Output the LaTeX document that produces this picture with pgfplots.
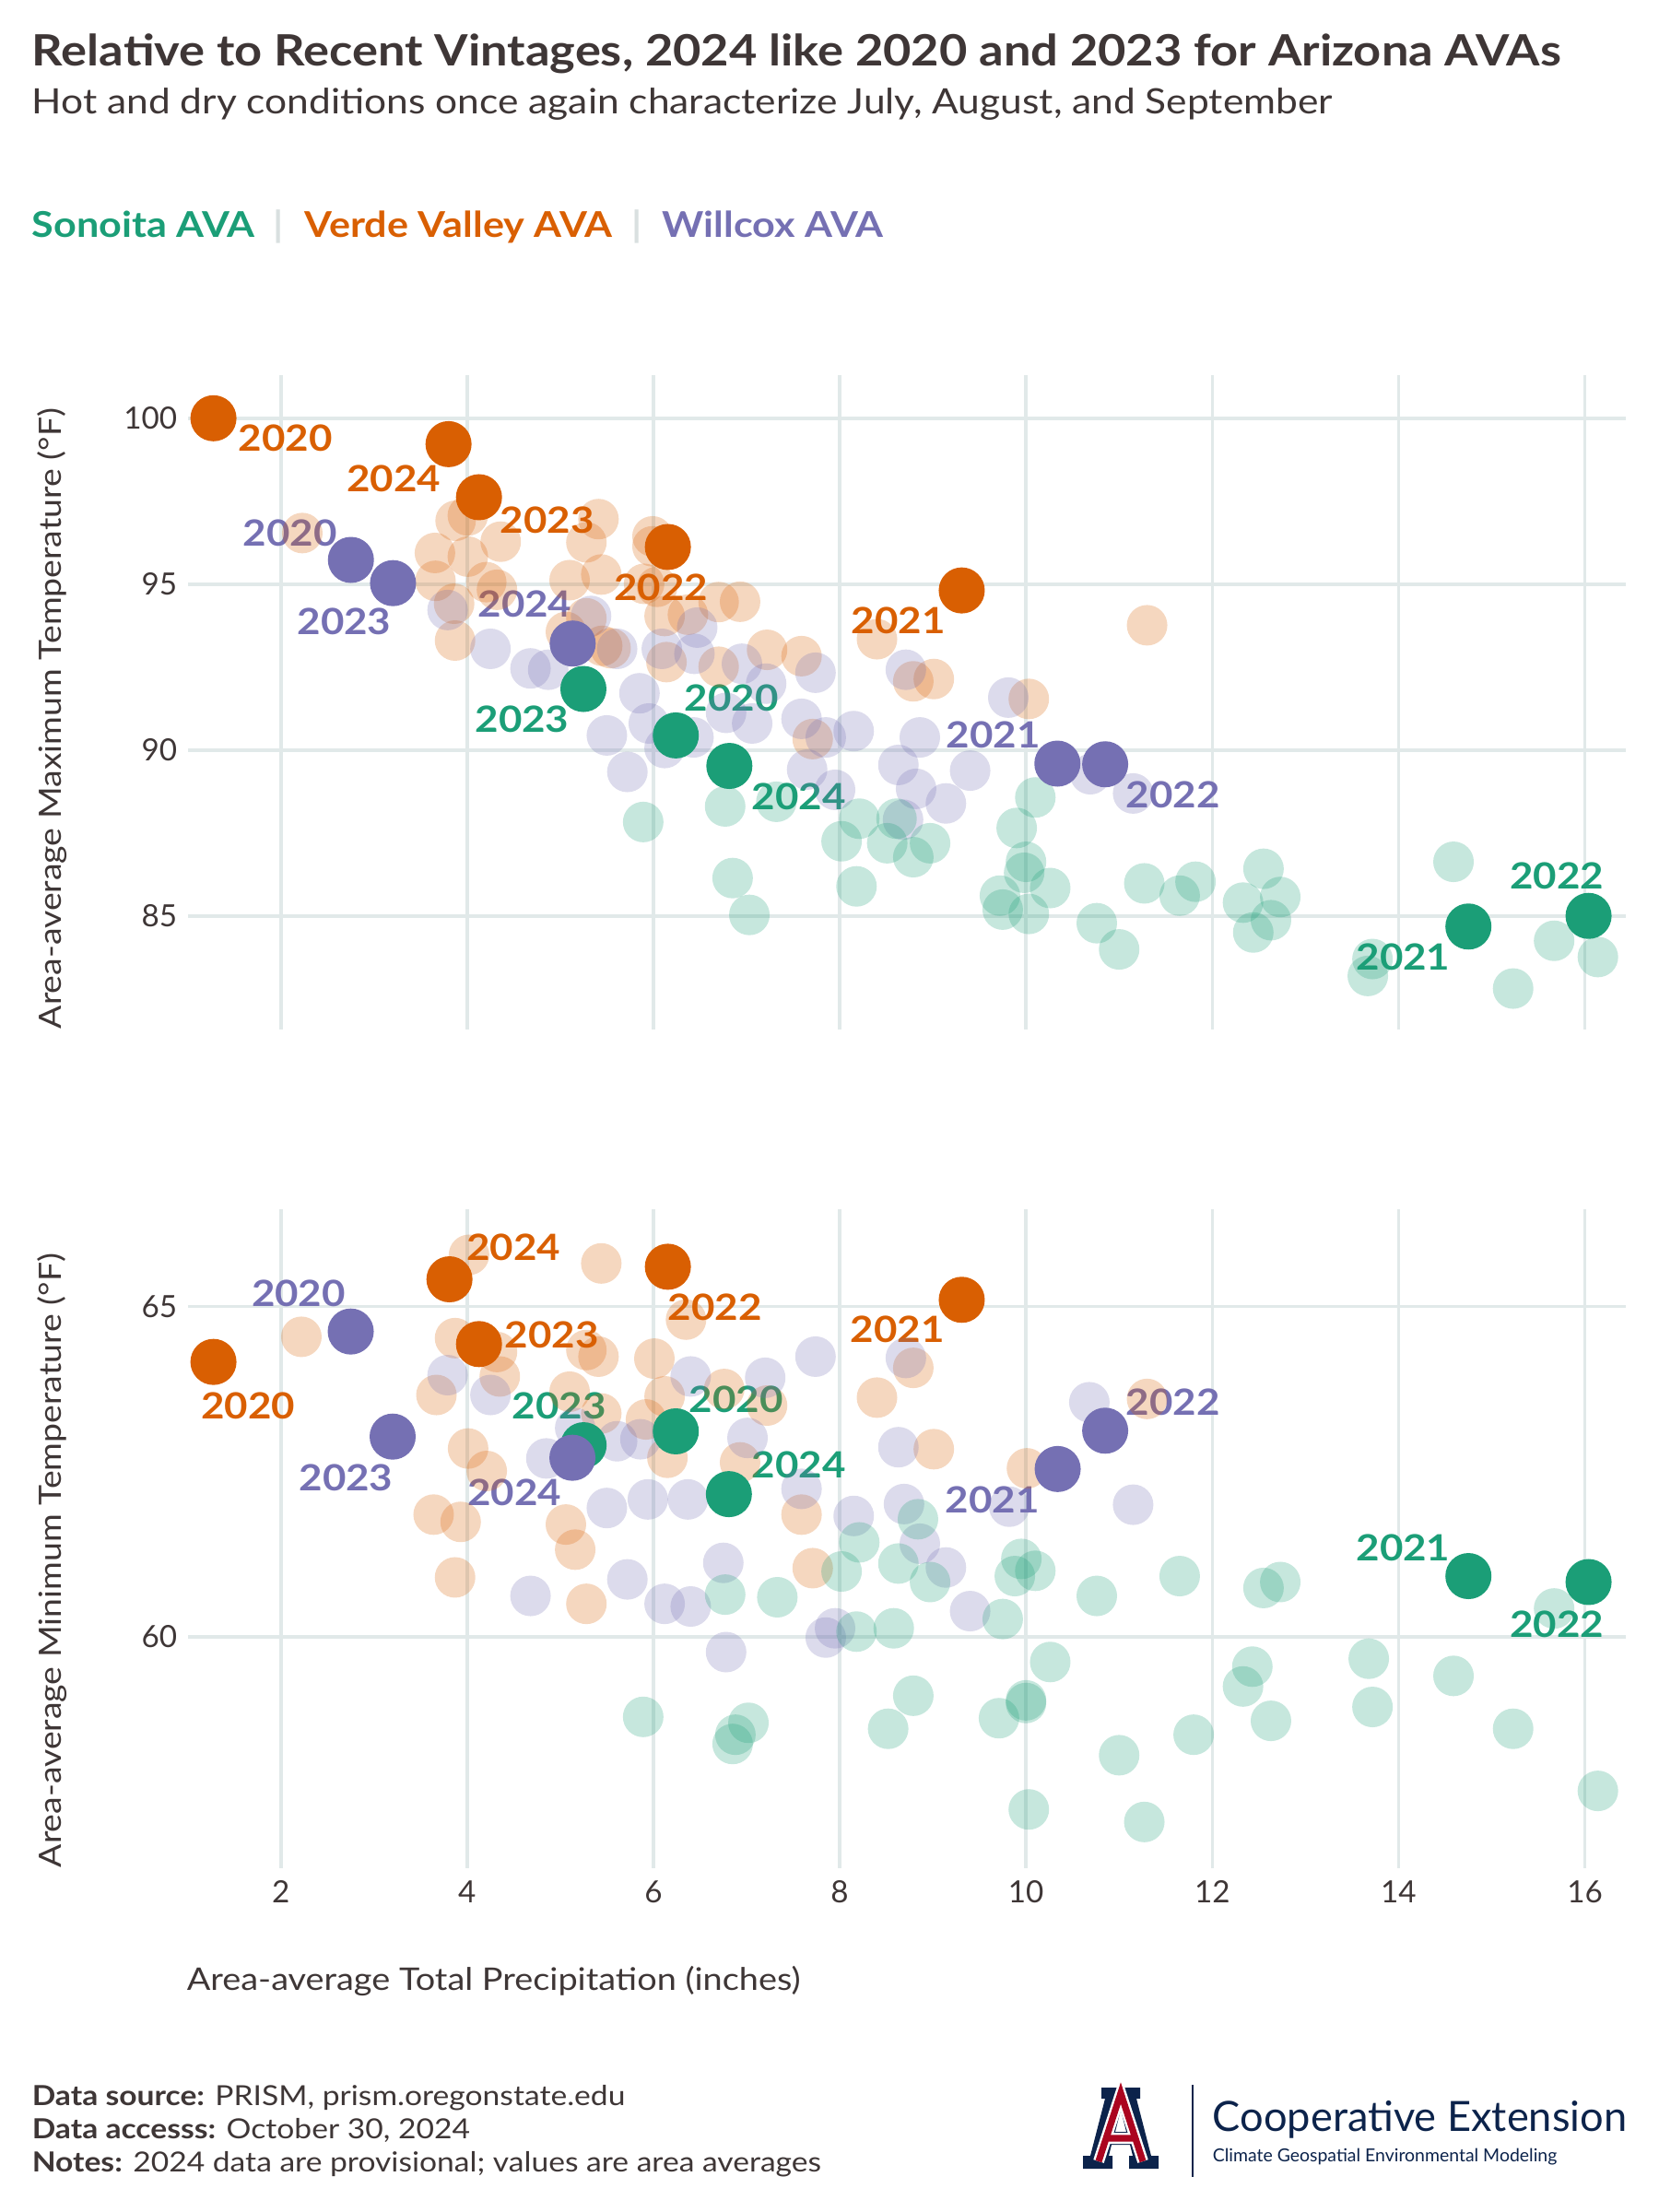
\documentclass[border=0pt]{standalone}
\usepackage{fontspec}
\setmainfont{Lato}[FakeStretch=1.12]
\newfontfamily\plainlato{Lato}
\usepackage{pgfplots}
\pgfplotsset{compat=1.18}
\definecolor{son}{HTML}{1B9E77}
\definecolor{ver}{HTML}{D95F02}
\definecolor{wil}{HTML}{7570B3}
\definecolor{txt}{HTML}{3E3636}
\definecolor{grd}{HTML}{E1E9E9}
\definecolor{sep}{HTML}{D9E0E0}
\definecolor{navy}{HTML}{0C234B}
\definecolor{azred}{HTML}{AB0520}

\pgfplotsset{
  panel/.style={
    scale only axis, width=390pt,
    xmin=1.003, xmax=16.44,
    axis line style={draw=none},
    major tick length=0pt,
    grid=major,
    major grid style={grd, line width=0.9pt},
    xtick={2,4,...,16},
    tick label style={font=\plainlato\fontsize{8.3}{10}\selectfont, text=txt},
    /pgf/number format/assume math mode=true,
    yticklabel style={inner sep=0pt, xshift=-2.75pt},
    xticklabel style={inner sep=0pt, yshift=-3.25pt},
    clip=false,
  },
  faded/.style={only marks, mark=*, mark size=5.5pt, color=#1, mark options={draw opacity=0, fill=#1, fill opacity=0.25}},
  hl/.style={only marks, mark=*, mark size=6.25pt, color=#1, mark options={draw opacity=0, fill=#1}},
}
\tikzset{lab/.style={font=\fontsize{9.8}{11}\bfseries, text=#1, inner sep=0pt, anchor=center}}

\begin{document}
\begin{tikzpicture}
\path (0,0) rectangle (450pt,-600pt);

% titles
\node[anchor=base west, inner sep=0pt, text=txt, font=\fontsize{11.7}{13}\bfseries] at (8.5pt,-17.75pt) {Relative to Recent Vintages, 2024 like 2020 and 2023 for Arizona AVAs};
\node[anchor=base west, inner sep=0pt, text=txt, font=\fontsize{9.48}{11}\selectfont] at (8.5pt,-30.75pt) {Hot and dry conditions once again characterize July, August, and September};
\begin{scope}[every node/.style={anchor=base west, inner sep=0pt, font=\fontsize{9.63}{11}\bfseries}]
\node[text=son] at (8.5pt,-64.25pt) {Sonoita AVA};
\node[text=sep, anchor=base] at (75.5pt,-64.25pt) {|};
\node[text=ver] at (82.5pt,-64.25pt) {Verde Valley AVA};
\node[text=sep, anchor=base] at (172.75pt,-64.25pt) {|};
\node[text=wil] at (179.5pt,-64.25pt) {Willcox AVA};
\end{scope}

% top panel
\begin{axis}[panel, at={(51pt,-279.25pt)}, anchor=south west, height=177.5pt,
  ymin=81.575, ymax=101.30, ytick={85,90,95,100}, xticklabels={}]
\addplot[faded=ver] coordinates {(2.23,96.54) (3.876,96.91) (4.007,97.07) (3.654,95.94) (4.007,95.83) (4.36,96.28) (3.66,95.1) (4.205,95.06) (4.32,94.83) (3.86,94.41) (3.87,93.3) (5.41,96.96) (5.28,96.26) (5.10,95.12) (5.44,95.29) (5.99,96.44) (5.99,96.14) (5.90,95.01) (6.12,94.04) (6.37,94.08) (6.14,92.65) (5.06,93.56) (5.28,93.97) (5.45,93.14) (5.54,93.07) (6.04,94.92) (6.70,94.46) (6.93,94.47) (6.70,92.51) (7.22,93.02) (7.59,92.83) (8.40,93.34) (8.79,92.07) (9.01,92.14) (10.03,91.54) (7.71,90.33) (11.30,93.76)};
\addplot[faded=wil] coordinates {(3.79,94.22) (4.25,93.05) (4.68,92.46) (4.87,92.42) (5.33,94.04) (5.61,93.05) (5.85,91.71) (5.95,90.80) (5.50,90.44) (5.72,89.34) (6.12,90.06) (6.09,93.05) (6.47,93.69) (6.44,92.90) (6.95,92.60) (7.21,92.00) (7.74,92.33) (6.43,90.38) (6.78,91.12) (7.06,90.80) (7.59,90.94) (7.85,90.38) (8.15,90.57) (7.65,89.41) (7.95,88.80) (8.71,92.42) (8.63,89.55) (8.86,90.38) (8.82,88.83) (9.14,88.39) (9.40,89.38) (9.81,91.58) (8.68,87.90) (10.69,89.27) (11.15,88.69)};
\addplot[faded=son] coordinates {(5.89,87.83) (6.77,88.30) (7.32,88.44) (6.85,86.14) (7.03,85.03) (8.21,87.93) (8.02,87.25) (8.61,87.93) (8.51,87.19) (8.79,86.77) (8.97,87.19) (8.18,85.89) (10.10,88.57) (9.90,87.65) (10.00,86.63) (9.98,86.30) (9.72,85.61) (9.75,85.19) (10.03,85.06) (10.26,85.84) (10.76,84.78) (11.00,83.99) (11.27,85.98) (11.65,85.61) (11.82,86.03) (12.55,86.42) (12.33,85.40) (12.73,85.57) (12.44,84.50) (12.63,84.87) (13.67,83.19) (13.72,83.70) (14.59,86.63) (15.23,82.81) (15.67,84.25) (16.14,83.76)};
\addplot[hl=son] coordinates {(5.248,91.84) (6.24,90.44) (6.815,89.52) (14.75,84.68) (16.04,85.0)};
\addplot[hl=ver] coordinates {(1.276,100.0) (3.80,99.22) (4.127,97.62) (6.155,96.12) (9.31,94.81)};
\addplot[hl=wil] coordinates {(2.752,95.73) (3.204,95.03) (5.133,93.21) (10.337,89.59) (10.85,89.57)};
\node[lab=ver] at (axis cs:2.05,99.39) {2020};
\node[lab=ver] at (axis cs:3.21,98.17) {2024};
\node[lab=ver] at (axis cs:4.86,96.94) {2023};
\node[lab=ver] at (axis cs:6.08,94.89) {2022};
\node[lab=ver] at (axis cs:8.63,93.89) {2021};
\node[lab=wil] at (axis cs:2.10,96.54) {2020};
\node[lab=wil] at (axis cs:2.68,93.88) {2023};
\node[lab=wil] at (axis cs:4.62,94.41) {2024};
\node[lab=wil] at (axis cs:9.65,90.46) {2021};
\node[lab=wil] at (axis cs:11.58,88.64) {2022};
\node[lab=son] at (axis cs:4.59,90.93) {2023};
\node[lab=son] at (axis cs:6.84,91.57) {2020};
\node[lab=son] at (axis cs:7.56,88.59) {2024};
\node[lab=son] at (axis cs:14.05,83.76) {2021};
\node[lab=son] at (axis cs:15.70,86.21) {2022};
\end{axis}

% bottom panel
\begin{axis}[panel, at={(51pt,-506.75pt)}, anchor=south west, height=178.75pt,
  ymin=56.50, ymax=66.47, ytick={60,65}]
\addplot[faded=ver] coordinates {(4.02,65.78) (5.44,65.65) (2.22,64.54) (3.87,64.52) (4.32,64.31) (4.35,63.94) (5.28,64.34) (5.41,64.24) (6.01,64.21) (6.35,64.80) (3.67,63.66) (5.10,63.71) (5.44,63.38) (6.12,63.64) (5.92,63.29) (6.15,62.71) (4.01,62.85) (4.21,62.51) (3.64,61.85) (3.93,61.74) (3.87,60.90) (5.06,61.70) (5.16,61.32) (5.28,60.50) (6.76,63.75) (7.22,63.50) (6.93,62.64) (7.59,61.85) (7.71,61.04) (8.40,63.62) (8.79,64.07) (9.01,62.84) (10.01,62.55) (11.30,63.60)};
\addplot[faded=wil] coordinates {(3.79,63.96) (4.25,63.66) (4.85,62.70) (5.16,63.16) (5.61,62.96) (5.86,62.99) (6.40,63.94) (5.50,61.95) (5.94,62.08) (4.68,60.62) (5.72,60.87) (6.12,60.50) (6.40,60.46) (6.37,62.08) (7.20,63.92) (7.74,64.24) (7.01,63.01) (8.71,64.22) (8.63,62.87) (7.59,62.24) (8.15,61.83) (8.69,62.01) (8.86,61.41) (9.14,61.05) (9.82,61.97) (6.75,61.12) (6.78,59.77) (7.95,60.13) (7.85,59.99) (9.40,60.39) (10.68,63.55) (11.15,62.00)};
\addplot[faded=son] coordinates {(8.84,61.78) (8.21,61.43) (8.63,61.11) (8.97,60.83) (8.02,60.99) (6.77,60.64) (7.33,60.60) (8.18,60.08) (8.58,60.13) (9.95,61.18) (9.88,60.92) (10.10,61.00) (9.75,60.27) (10.26,59.62) (10.76,60.62) (11.65,60.92) (8.79,59.11) (8.52,58.61) (9.71,58.77) (10.00,59.04) (10.00,59.00) (11.00,58.21) (11.80,58.52) (10.03,57.39) (11.27,57.20) (5.89,58.79) (7.02,58.70) (6.88,58.52) (6.85,58.38) (12.55,60.74) (12.73,60.83) (12.43,59.55) (12.33,59.25) (12.63,58.73) (13.68,59.67) (13.72,58.94) (14.59,59.41) (15.23,58.61) (15.67,60.43) (16.14,57.67)};
\addplot[hl=son] coordinates {(5.25,62.90) (6.24,63.11) (6.81,62.16) (14.75,60.92) (16.04,60.83)};
\addplot[hl=ver] coordinates {(1.276,64.16) (3.81,65.41) (4.127,64.43) (6.155,65.60) (9.31,65.10)};
\addplot[hl=wil] coordinates {(2.75,64.62) (3.20,63.03) (5.13,62.71) (10.34,62.54) (10.85,63.12)};
\node[lab=ver] at (axis cs:4.50,65.89) {2024};
\node[lab=ver] at (axis cs:6.66,64.99) {2022};
\node[lab=ver] at (axis cs:4.91,64.57) {2023};
\node[lab=ver] at (axis cs:1.65,63.50) {2020};
\node[lab=ver] at (axis cs:8.62,64.65) {2021};
\node[lab=wil] at (axis cs:2.19,65.19) {2020};
\node[lab=wil] at (axis cs:2.70,62.41) {2023};
\node[lab=wil] at (axis cs:4.51,62.18) {2024};
\node[lab=wil] at (axis cs:9.64,62.07) {2021};
\node[lab=wil] at (axis cs:11.58,63.55) {2022};
\node[lab=son] at (axis cs:4.99,63.50) {2023};
\node[lab=son] at (axis cs:6.89,63.59) {2020};
\node[lab=son] at (axis cs:7.56,62.60) {2024};
\node[lab=son] at (axis cs:14.05,61.35) {2021};
\node[lab=son] at (axis cs:15.70,60.19) {2022};
\end{axis}

% axis titles
\node[rotate=90, anchor=base west, inner sep=0pt, text=txt, font=\fontsize{8.35}{10}\selectfont] at (16.5pt,-279.25pt) {Area-average Maximum Temperature (°F)};
\node[rotate=90, anchor=base west, inner sep=0pt, text=txt, font=\fontsize{8.35}{10}\selectfont] at (16.5pt,-506.75pt) {Area-average Minimum Temperature (°F)};
\node[anchor=base west, inner sep=0pt, text=txt, font=\fontsize{8.45}{10}\selectfont] at (50.5pt,-539.75pt) {Area-average Total Precipitation (inches)};

% footer
\begin{scope}[every node/.style={anchor=base west, inner sep=0pt, text=txt, font=\fontsize{7.5}{9}\selectfont}]
\node at (8.5pt,-571pt) {\textbf{Data source:} PRISM, prism.oregonstate.edu};
\node at (8.5pt,-580pt) {\textbf{Data accesss:} October 30, 2024};
\node at (8.5pt,-589pt) {\textbf{Notes:} 2024 data are provisional; values are area averages};
\end{scope}

% logo
\begin{scope}[shift={(292.25pt,-566.25pt)}, x=0.25pt, y=-0.25pt]
\fill[navy, even odd rule] (26,0) -- (68,0) -- (68,12) -- (64,12) -- (80,74) -- (88,74) -- (88,88) -- (56,88) -- (56,74) -- (60,74) -- (57,62) -- (37,62) -- (34,74) -- (38,74) -- (38,88) -- (6,88) -- (6,74) -- (14,74) -- (30,12) -- (26,12) -- cycle (47,24) -- (53,48) -- (41,48) -- cycle;
\draw[white, line width=3pt, line join=miter] (23,80) -- (47,6) -- (71,80) (33,55) -- (61,55);
\draw[azred, line width=1.8pt, line join=miter] (23,80) -- (47,6) -- (71,80) (33,55) -- (61,55);
\end{scope}
\draw[navy, line width=0.5pt] (323.5pt,-565.5pt) -- (323.5pt,-590.5pt);
\node[anchor=base west, inner sep=0pt, text=navy, font=\plainlato\fontsize{11.3}{12}\selectfont] at (328.75pt,-578pt) {Cooperative Extension};
\node[anchor=base west, inner sep=0pt, text=navy, font=\plainlato\fontsize{4.86}{6}\selectfont] at (328.75pt,-586.25pt) {Climate Geospatial Environmental Modeling};
\end{tikzpicture}
\end{document}
